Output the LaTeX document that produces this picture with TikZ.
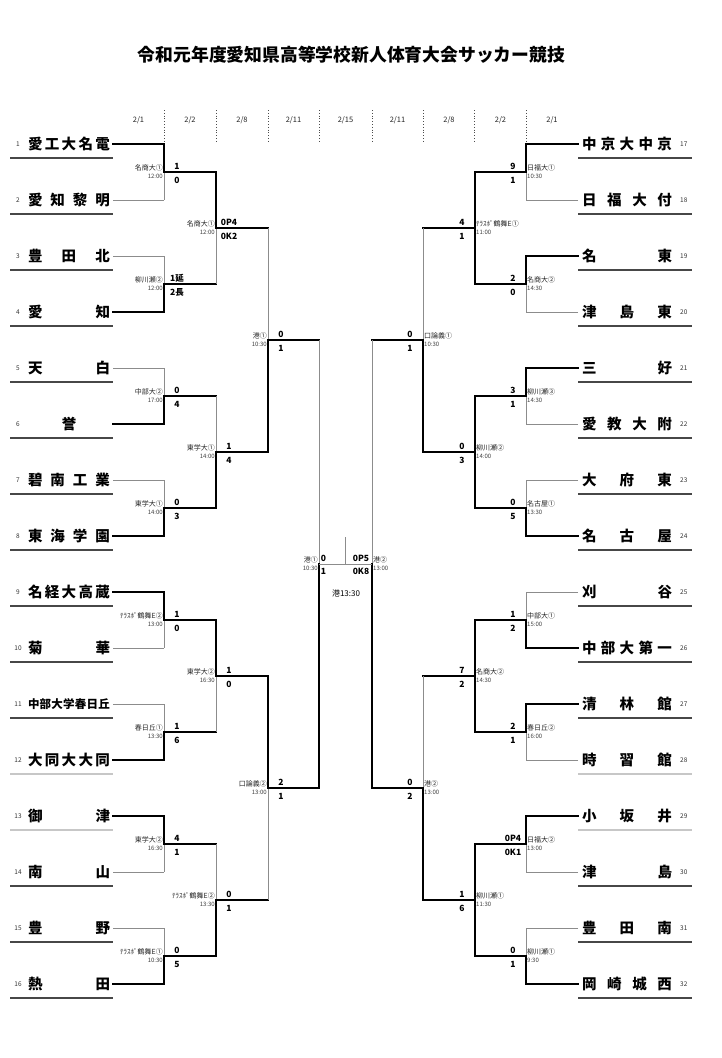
\documentclass[tikz,border=0pt]{standalone}
\usepackage{fontspec}
\setmainfont{Noto Sans CJK JP}
\tikzset{
 win/.style={line width=2.4pt, black, line cap=rect},
 lose/.style={line width=0.8pt, black!45},
 ulD/.style={line width=1.1pt, black!72},
 ulL/.style={line width=1.1pt, black!22},
 sep/.style={dotted, line width=0.8pt, black!70},
 venue/.style={font=\fontsize{7}{7}\selectfont, inner sep=0pt, text=black!85},
 tm/.style={font=\fontsize{6}{6}\selectfont, inner sep=0pt, text=black!75},
 score/.style={font=\bfseries\fontsize{8.5}{8.5}\selectfont, inner sep=0pt},
 tname/.style={font=\bfseries\fontsize{14.5}{14.5}\selectfont, inner sep=0pt},
 tnum/.style={font=\fontsize{6.5}{6.5}\selectfont, inner sep=0pt, text=black!80},
 date/.style={font=\fontsize{7.5}{7.5}\selectfont, inner sep=0pt, text=black!85},
 title/.style={font=\bfseries\fontsize{17.8}{18}\selectfont, inner sep=0pt},
}
\newcommand\tL[5]{%
 \node[tnum] (#1n) at (18,#2) {#3};
 \node[tname] (#1) at (69,#2) {\makebox[82pt][s]{#4}};
 \coordinate (#1e) at (113,#2);
 \draw[#5] (10,{#2+14}) -- (113,{#2+14});}
\newcommand\tR[5]{%
 \node[tnum,anchor=west] (#1n) at (680,#2) {#3};
 \node[tname] (#1) at (627,#2) {\makebox[90pt][s]{#4}};
 \coordinate (#1e) at (578,#2);
 \draw[#5] (578,{#2+14}) -- (692,{#2+14});}
\newcommand\bm[7]{%
 \coordinate (#1a) at (#2,#4); \coordinate (#1b) at (#2,#5);
 \coordinate (#1m) at (#2,{(#4+#5)/2}); \coordinate (#1o) at (#3,{(#4+#5)/2});
 \draw[#6] (#1a) -- (#1m); \draw[#7] (#1m) -- (#1b); \draw[win] (#1m) -- (#1o);}
\newcommand\iL[7]{%
 \node[venue, anchor=south east] (#1v) at ({#2-1},{#3-0.8}) {#4};
 \node[tm, anchor=north east] (#1t) at ({#2-1},{#3+2}) {#5};
 \node[score] (#1s) at ({#2+13},{#3-6}) {#6};
 \node[score] (#1r) at ({#2+13},{#3+8}) {#7};}
\newcommand\iR[7]{%
 \node[venue, anchor=south west] (#1v) at ({#2+1},{#3-0.8}) {#4};
 \node[tm, anchor=north west] (#1t) at ({#2+1},{#3+2}) {#5};
 \node[score] (#1s) at ({#2-13},{#3-6}) {#6};
 \node[score] (#1r) at ({#2-13},{#3+8}) {#7};}
\begin{document}
\begin{tikzpicture}[x=1pt,y=-1pt]
\useasboundingbox (0,0) rectangle (721,1058);
\fill[white] (0,0) rectangle (721,1058);
\node[title] (ttl) at (351.5,55) {令和元年度愛知県高等学校新人体育大会サッカー競技};
% dates
\node[date] (d1) at (138.5,120) {2/1};
\node[date] (d2) at (190,120) {2/2};
\node[date] (d3) at (242,120) {2/8};
\node[date] (d4) at (293.5,120) {2/11};
\node[date] (d5) at (345.5,120) {2/15};
\node[date] (d6) at (397.5,120) {2/11};
\node[date] (d7) at (449,120) {2/8};
\node[date] (d8) at (500.5,120) {2/2};
\node[date] (d9) at (552,120) {2/1};
\foreach \x in {164,216,268,319,372,423,474.5,526} \draw[sep] (\x,110) -- (\x,143);
% left teams
\tL{t1}{144}{1}{愛\hfill 工\hfill 大\hfill 名\hfill 電}{ulD}
\tL{t2}{200}{2}{愛\hfill 知\hfill 黎\hfill 明}{ulD}
\tL{t3}{256}{3}{豊\hfill 田\hfill 北}{ulD}
\tL{t4}{312}{4}{愛\hfill 知}{ulD}
\tL{t5}{368}{5}{天\hfill 白}{ulD}
\tL{t6}{424}{6}{\hfill 誉\hfill}{ulD}
\tL{t7}{480}{7}{碧\hfill 南\hfill 工\hfill 業}{ulD}
\tL{t8}{536}{8}{東\hfill 海\hfill 学\hfill 園}{ulD}
\tL{t9}{592}{9}{名\hfill 経\hfill 大\hfill 高\hfill 蔵}{ulD}
\tL{t10}{648}{10}{菊\hfill 華}{ulD}
\tL{t11}{704}{11}{\fontsize{11.5}{11.5}\selectfont 中\hfill 部\hfill 大\hfill 学\hfill 春\hfill 日\hfill 丘}{ulD}
\tL{t12}{760}{12}{大\hfill 同\hfill 大\hfill 大\hfill 同}{ulL}
\tL{t13}{816}{13}{御\hfill 津}{ulL}
\tL{t14}{872}{14}{南\hfill 山}{ulD}
\tL{t15}{928}{15}{豊\hfill 野}{ulD}
\tL{t16}{984}{16}{熱\hfill 田}{ulD}
% right teams
\tR{t17}{144}{17}{中\hfill 京\hfill 大\hfill 中\hfill 京}{ulD}
\tR{t18}{200}{18}{日\hfill 福\hfill 大\hfill 付}{ulD}
\tR{t19}{256}{19}{名\hfill 東}{ulD}
\tR{t20}{312}{20}{津\hfill 島\hfill 東}{ulD}
\tR{t21}{368}{21}{三\hfill 好}{ulD}
\tR{t22}{424}{22}{愛\hfill 教\hfill 大\hfill 附}{ulD}
\tR{t23}{480}{23}{大\hfill 府\hfill 東}{ulD}
\tR{t24}{536}{24}{名\hfill 古\hfill 屋}{ulD}
\tR{t25}{592}{25}{刈\hfill 谷}{ulD}
\tR{t26}{648}{26}{中\hfill 部\hfill 大\hfill 第\hfill 一}{ulD}
\tR{t27}{704}{27}{清\hfill 林\hfill 館}{ulD}
\tR{t28}{760}{28}{時\hfill 習\hfill 館}{ulL}
\tR{t29}{816}{29}{小\hfill 坂\hfill 井}{ulL}
\tR{t30}{872}{30}{津\hfill 島}{ulD}
\tR{t31}{928}{31}{豊\hfill 田\hfill 南}{ulD}
\tR{t32}{984}{32}{岡\hfill 崎\hfill 城\hfill 西}{ulD}
% left round 1
\bm{m1}{164}{216}{144}{200}{win}{lose}
\bm{m2}{164}{216}{256}{312}{lose}{win}
\bm{m3}{164}{216}{368}{424}{lose}{win}
\bm{m4}{164}{216}{480}{536}{lose}{win}
\bm{m5}{164}{216}{592}{648}{win}{lose}
\bm{m6}{164}{216}{704}{760}{lose}{win}
\bm{m7}{164}{216}{816}{872}{win}{lose}
\bm{m8}{164}{216}{928}{984}{lose}{win}
\draw[win] (t1e) -- (m1a); \draw[lose] (t2e) -- (m1b);
\draw[lose] (t3e) -- (m2a); \draw[win] (t4e) -- (m2b);
\draw[lose] (t5e) -- (m3a); \draw[win] (t6e) -- (m3b);
\draw[lose] (t7e) -- (m4a); \draw[win] (t8e) -- (m4b);
\draw[win] (t9e) -- (m5a); \draw[lose] (t10e) -- (m5b);
\draw[lose] (t11e) -- (m6a); \draw[win] (t12e) -- (m6b);
\draw[win] (t13e) -- (m7a); \draw[lose] (t14e) -- (m7b);
\draw[lose] (t15e) -- (m8a); \draw[win] (t16e) -- (m8b);
% left round 2 and 3
\bm{q1}{216}{268}{172}{284}{win}{lose}
\bm{q2}{216}{268}{396}{508}{lose}{win}
\bm{q3}{216}{268}{620}{732}{win}{lose}
\bm{q4}{216}{268}{844}{956}{lose}{win}
\bm{s1}{268}{319}{228}{452}{lose}{win}
\bm{s2}{268}{319}{676}{900}{win}{lose}
% right round 1
\bm{m9}{526}{475}{144}{200}{win}{lose}
\bm{m10}{526}{475}{256}{312}{win}{lose}
\bm{m11}{526}{475}{368}{424}{win}{lose}
\bm{m12}{526}{475}{480}{536}{lose}{win}
\bm{m13}{526}{475}{592}{648}{lose}{win}
\bm{m14}{526}{475}{704}{760}{win}{lose}
\bm{m15}{526}{475}{816}{872}{win}{lose}
\bm{m16}{526}{475}{928}{984}{lose}{win}
\draw[win] (t17e) -- (m9a); \draw[lose] (t18e) -- (m9b);
\draw[win] (t19e) -- (m10a); \draw[lose] (t20e) -- (m10b);
\draw[win] (t21e) -- (m11a); \draw[lose] (t22e) -- (m11b);
\draw[lose] (t23e) -- (m12a); \draw[win] (t24e) -- (m12b);
\draw[lose] (t25e) -- (m13a); \draw[win] (t26e) -- (m13b);
\draw[win] (t27e) -- (m14a); \draw[lose] (t28e) -- (m14b);
\draw[win] (t29e) -- (m15a); \draw[lose] (t30e) -- (m15b);
\draw[lose] (t31e) -- (m16a); \draw[win] (t32e) -- (m16b);
% right round 2 and 3
\bm{q5}{475}{423}{172}{284}{win}{win}
\bm{q6}{475}{423}{396}{508}{win}{win}
\bm{q7}{475}{423}{620}{732}{win}{win}
\bm{q8}{475}{423}{844}{956}{win}{win}
\bm{s3}{423}{372}{228}{452}{lose}{win}
\bm{s4}{423}{372}{676}{900}{lose}{win}
% semifinals and final
\coordinate (fLm) at (319,564); \coordinate (fRm) at (372,564);
\coordinate (fT) at (345.5,537); \coordinate (fB) at (345.5,564);
\draw[lose] (s1o) -- (fLm); \draw[win] (fLm) -- (s2o);
\draw[lose] (s3o) -- (fRm); \draw[win] (fRm) -- (s4o);
\draw[lose] (fLm) -- (fRm);
\draw[lose] (fT) -- (fB);
% labels left
\iL{m1}{164}{172}{名商大①}{12:00}{1}{0}
\iL{m2}{164}{284}{柳川瀬②}{12:00}{1延}{2長}
\iL{m3}{164}{396}{中部大②}{17:00}{0}{4}
\iL{m4}{164}{508}{東学大①}{14:00}{0}{3}
\iL{m5}{164}{620}{ﾃﾗｽﾎﾟ鶴舞E②}{13:00}{1}{0}
\iL{m6}{164}{732}{春日丘①}{13:30}{1}{6}
\iL{m7}{164}{844}{東学大②}{16:30}{4}{1}
\iL{m8}{164}{956}{ﾃﾗｽﾎﾟ鶴舞E①}{10:30}{0}{5}
\iL{q1}{216}{228}{名商大①}{12:00}{0P4}{0K2}
\iL{q2}{216}{452}{東学大①}{14:00}{1}{4}
\iL{q3}{216}{676}{東学大②}{16:30}{1}{0}
\iL{q4}{216}{900}{ﾃﾗｽﾎﾟ鶴舞E②}{13:30}{0}{1}
\iL{s1}{268}{340}{港①}{10:30}{0}{1}
\iL{s2}{268}{788}{口論義②}{13:00}{2}{1}
% labels right
\iR{m9}{526}{172}{日福大①}{10:30}{9}{1}
\iR{m10}{526}{284}{名商大②}{14:30}{2}{0}
\iR{m11}{526}{396}{柳川瀬③}{14:30}{3}{1}
\iR{m12}{526}{508}{名古屋①}{13:30}{0}{5}
\iR{m13}{526}{620}{中部大①}{15:00}{1}{2}
\iR{m14}{526}{732}{春日丘②}{16:00}{2}{1}
\iR{m15}{526}{844}{日福大②}{13:00}{0P4}{0K1}
\iR{m16}{526}{956}{柳川瀬①}{9:30}{0}{1}
\iR{q5}{475}{228}{ﾃﾗｽﾎﾟ鶴舞E①}{11:00}{4}{1}
\iR{q6}{475}{452}{柳川瀬②}{14:00}{0}{3}
\iR{q7}{475}{676}{名商大②}{14:30}{7}{2}
\iR{q8}{475}{900}{柳川瀬①}{11:30}{1}{6}
\iR{s3}{423}{340}{口論義①}{10:30}{0}{1}
\iR{s4}{423}{788}{港②}{13:00}{0}{2}
% final labels
\node[venue, anchor=south east] (fLv) at (318,563.2) {港①};
\node[tm, anchor=north east] (fLt) at (318,566) {10:30};
\node[score] (fLs) at (323.5,558) {0};
\node[score] (fLr) at (323.5,571) {1};
\node[venue, anchor=south west] (fRv) at (373,563.2) {港②};
\node[tm, anchor=north west] (fRt) at (373,566) {13:00};
\node[score] (fRs) at (361,558) {0P5};
\node[score] (fRr) at (361,571) {0K8};
\node[font=\fontsize{8}{8}\selectfont, inner sep=0pt] (fin) at (346,593) {港13:30};
\end{tikzpicture}
\end{document}
